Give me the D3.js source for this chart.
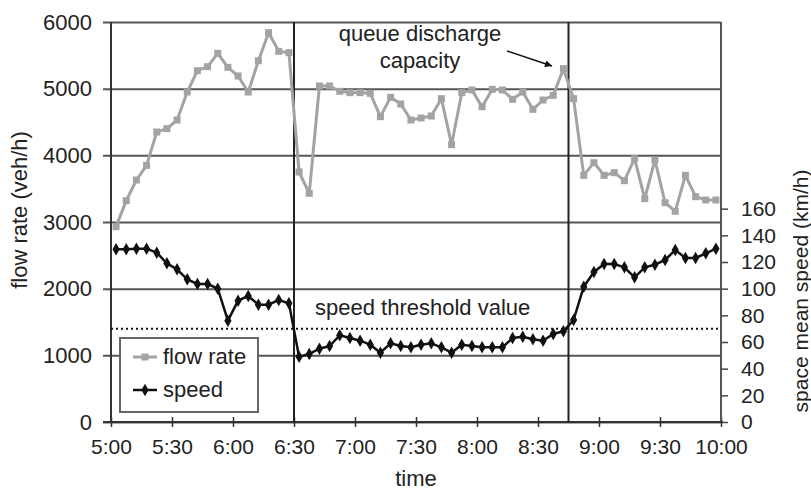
<!DOCTYPE html>
<html>
<head>
<meta charset="utf-8">
<script src="https://cdn.jsdelivr.net/npm/d3@7"></script>
<style>
body{margin:0;background:#fff;}
text{font-family:"Liberation Sans",Arial,sans-serif;fill:#222;}
</style>
</head>
<body>
<svg id="chart" width="811" height="492"></svg>
<script>
// 5-minute values, 5:00 - 10:00
var flowRate = [2930, 3320, 3630, 3850, 4350, 4400, 4530, 4950, 5270, 5330,
    5530, 5320, 5190, 4950, 5420, 5840, 5560, 5540, 3750, 3430,
    5040, 5040, 4960, 4940, 4940, 4930, 4580, 4870, 4770, 4530,
    4560, 4590, 4850, 4160, 4940, 4980, 4730, 4990, 4980, 4840,
    4950, 4690, 4830, 4900, 5300, 4850, 3700, 3890, 3700, 3740,
    3620, 3950, 3350, 3930, 3290, 3160, 3700, 3380, 3330, 3330];
var speed = [129.5, 129.5, 130, 130, 127, 119, 114.5, 107, 103.5, 103.5,
    100, 76, 91, 94.5, 88, 88, 91.5, 89, 49, 51,
    55, 57, 65, 63, 61, 58, 52, 59, 57, 56,
    58, 59, 56, 52, 58, 57, 56, 56, 56, 63,
    64, 62, 61, 66, 68, 76.5, 101.5, 112.5, 118.5, 118.5,
    116, 108.5, 116, 118, 121.5, 129, 123, 123, 126.5, 130];
var flowTicks = [0, 1000, 2000, 3000, 4000, 5000, 6000];
var speedTicks = [0, 20, 40, 60, 80, 100, 120, 140, 160];
var timeTicks = ["5:00", "5:30", "6:00", "6:30", "7:00", "7:30", "8:00", "8:30", "9:00", "9:30", "10:00"];
var eventTimes = ["6:30", "8:45"];
var speedThreshold = 70;

var plotLeft = 111, plotRight = 721, plotTop = 22, plotBottom = 422;
var fontSize = "22px";
var svg = d3.select("#chart");

var parseTime = d3.timeParse("%H:%M");
var t0 = parseTime("5:00");
// points sit in the middle of each 5-minute interval
var pointTimes = flowRate.map(function(d, i){ return d3.timeSecond.offset(t0, 150 + i * 300); });

var x = d3.scaleTime()
    .domain([t0, parseTime("10:00")])
    .range([plotLeft, plotRight]);
var yFlow = d3.scaleLinear()
    .domain([0, 6000])
    .range([plotBottom, plotTop]);
var ySpeed = d3.scaleLinear()
    .domain([0, 300])
    .range([plotBottom, plotTop]);

// left axis + gridlines
var gLeft = svg.append("g")
    .attr("transform", "translate(" + plotLeft + ",0)")
    .call(d3.axisLeft(yFlow)
        .tickValues(flowTicks)
        .tickFormat(d3.format("d"))
        .tickSize(-(plotRight - plotLeft))
        .tickPadding(19));
gLeft.select(".domain").remove();
gLeft.selectAll(".tick line")
    .attr("x1", -8)
    .attr("stroke", "#555")
    .attr("stroke-width", 2);
gLeft.selectAll(".tick text")
    .style("font-size", fontSize);

// right axis (speed)
var gRight = svg.append("g")
    .attr("transform", "translate(" + plotRight + ",0)")
    .call(d3.axisRight(ySpeed).tickValues(speedTicks).tickSize(7).tickPadding(13));
gRight.select(".domain").remove();
gRight.selectAll(".tick line").attr("stroke", "#444").attr("stroke-width", 1.5);
gRight.selectAll(".tick text").style("font-size", "21px");

// bottom axis
var gBottom = svg.append("g")
    .attr("transform", "translate(0," + plotBottom + ")")
    .call(d3.axisBottom(x)
        .tickValues(timeTicks.map(parseTime))
        .tickFormat(d3.timeFormat("%-H:%M"))
        .tickSize(5)
        .tickPadding(12));
gBottom.select(".domain").remove();
gBottom.selectAll(".tick line")
    .attr("y1", -5)
    .attr("stroke", "#333")
    .attr("stroke-width", 1.5);
gBottom.selectAll(".tick text").style("font-size", "21px");

// frame
svg.append("line")
    .attr("x1", plotLeft).attr("x2", plotLeft).attr("y1", plotTop).attr("y2", plotBottom)
    .attr("stroke", "#333").attr("stroke-width", 2);
svg.append("line")
    .attr("x1", plotRight).attr("x2", plotRight).attr("y1", plotTop).attr("y2", plotBottom)
    .attr("stroke", "#555").attr("stroke-width", 2);
svg.append("line")
    .attr("x1", plotLeft - 8).attr("x2", plotRight + 2).attr("y1", plotBottom).attr("y2", plotBottom)
    .attr("stroke", "#333").attr("stroke-width", 2);

// event lines
svg.selectAll(".event")
    .data(eventTimes)
    .enter()
    .append("line")
    .attr("class", "event")
    .attr("x1", function(d){ return x(parseTime(d)); })
    .attr("x2", function(d){ return x(parseTime(d)); })
    .attr("y1", plotTop)
    .attr("y2", plotBottom)
    .attr("stroke", "#222")
    .attr("stroke-width", 2);

// speed threshold
svg.append("line")
    .attr("x1", plotLeft).attr("x2", plotRight)
    .attr("y1", ySpeed(speedThreshold)).attr("y2", ySpeed(speedThreshold))
    .attr("stroke", "#111")
    .attr("stroke-width", 2)
    .attr("stroke-dasharray", "2,3");
svg.append("text")
    .attr("x", 315)
    .attr("y", ySpeed(speedThreshold) - 14)
    .style("font-size", fontSize)
    .text("speed threshold value");

// flow rate series
var flowLine = d3.line()
    .x(function(d, i){ return x(pointTimes[i]); })
    .y(function(d){ return yFlow(d); });
svg.append("path")
    .datum(flowRate)
    .attr("d", flowLine)
    .attr("fill", "none")
    .attr("stroke", "#a3a3a3")
    .attr("stroke-width", 3)
    .attr("stroke-linejoin", "round");
svg.selectAll(".flowPt")
    .data(flowRate)
    .enter()
    .append("rect")
    .attr("class", "flowPt")
    .attr("x", function(d, i){ return x(pointTimes[i]) - 3.5; })
    .attr("y", function(d){ return yFlow(d) - 3.5; })
    .attr("width", 7)
    .attr("height", 7)
    .attr("fill", "#a3a3a3");

// speed series
var speedLine = d3.line()
    .x(function(d, i){ return x(pointTimes[i]); })
    .y(function(d){ return ySpeed(d); });
svg.append("path")
    .datum(speed)
    .attr("d", speedLine)
    .attr("fill", "none")
    .attr("stroke", "#111")
    .attr("stroke-width", 2.5)
    .attr("stroke-linejoin", "round");
var diamond = d3.symbol().type(d3.symbolDiamond).size(45);
svg.selectAll(".speedPt")
    .data(speed)
    .enter()
    .append("path")
    .attr("class", "speedPt")
    .attr("d", diamond)
    .attr("transform", function(d, i){ return "translate(" + x(pointTimes[i]) + "," + ySpeed(d) + ")"; })
    .attr("fill", "#111");

// legend
var legend = svg.append("g");
legend.append("rect")
    .attr("x", 120).attr("y", 338)
    .attr("width", 138).attr("height", 74)
    .attr("fill", "#fff")
    .attr("stroke", "#666")
    .attr("stroke-width", 2);
legend.append("line")
    .attr("x1", 133).attr("x2", 157).attr("y1", 357).attr("y2", 357)
    .attr("stroke", "#a3a3a3").attr("stroke-width", 3);
legend.append("rect")
    .attr("x", 141.5).attr("y", 353.5).attr("width", 7).attr("height", 7)
    .attr("fill", "#a3a3a3");
legend.append("text")
    .attr("x", 163).attr("y", 364)
    .style("font-size", fontSize)
    .text("flow rate");
legend.append("line")
    .attr("x1", 133).attr("x2", 157).attr("y1", 390).attr("y2", 390)
    .attr("stroke", "#111").attr("stroke-width", 2.5);
legend.append("path")
    .attr("d", diamond)
    .attr("transform", "translate(145,390)")
    .attr("fill", "#111");
legend.append("text")
    .attr("x", 163).attr("y", 397)
    .style("font-size", fontSize)
    .text("speed");

// annotation
svg.append("defs").append("marker")
    .attr("id", "arrow")
    .attr("viewBox", "0 0 10 10")
    .attr("refX", 10).attr("refY", 5)
    .attr("markerWidth", 10).attr("markerHeight", 7)
    .attr("markerUnits", "userSpaceOnUse")
    .attr("orient", "auto")
    .append("path")
    .attr("d", "M0,0L10,5L0,10z")
    .attr("fill", "#111");
svg.append("line")
    .attr("x1", 507).attr("y1", 51)
    .attr("x2", 552).attr("y2", 66)
    .attr("stroke", "#111")
    .attr("stroke-width", 1.5)
    .attr("marker-end", "url(#arrow)");
svg.append("text")
    .attr("x", 420).attr("y", 41)
    .attr("text-anchor", "middle")
    .style("font-size", fontSize)
    .text("queue discharge");
svg.append("text")
    .attr("x", 420).attr("y", 68)
    .attr("text-anchor", "middle")
    .style("font-size", fontSize)
    .text("capacity");

// axis titles
svg.append("text")
    .attr("transform", "translate(27,210) rotate(-90)")
    .attr("text-anchor", "middle")
    .style("font-size", fontSize)
    .text("flow rate (veh/h)");
svg.append("text")
    .attr("transform", "translate(808,291) rotate(-90)")
    .attr("text-anchor", "middle")
    .style("font-size", "21px")
    .text("space mean speed (km/h)");
svg.append("text")
    .attr("x", (plotLeft + plotRight) / 2)
    .attr("y", 486)
    .attr("text-anchor", "middle")
    .style("font-size", fontSize)
    .text("time");
</script>
</body>
</html>
